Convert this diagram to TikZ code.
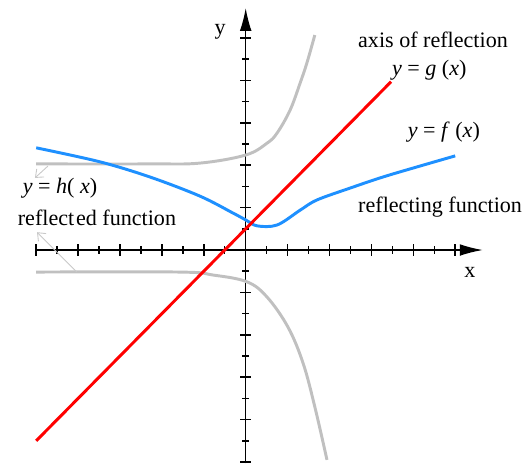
\documentclass[tikz,border=0pt]{standalone}
\usepackage{xcolor}
\usepackage{tikz}
\usepackage{fontspec}
\setmainfont{Liberation Serif}
\usetikzlibrary{arrows.meta,positioning,calc}
\definecolor{reflblue}{HTML}{1E90FF}
\definecolor{reflred}{HTML}{FF0000}
\definecolor{reflgray}{HTML}{C0C0C0}
\definecolor{reflpointer}{HTML}{C8C8C8}
\tikzstyle{axisline} = [line width=1pt, black, -{Latex[length=5.5mm,width=2.8mm]}]
\tikzstyle{curve} = [line width=2pt, line join=round]
\tikzstyle{funclabel} = [inner sep=1pt, font=\fontsize{15}{18}\selectfont]
\tikzstyle{pointer} = [-{Straight Barb[length=1.6mm,width=2.6mm]}, reflpointer, line width=0.6pt]

\begin{document}
\begin{tikzpicture}[x=1cm, y=1.012cm]
\useasboundingbox (-5.864,-5.024) rectangle (6.642,5.896);

% axes
\draw[axisline] (-5.0,0) -- (5.66,0);
\draw[axisline] (0,-5.03) -- (0,5.71);
\foreach \i in {-5,...,5} {
  \draw[line width=1pt] (\i,-0.13) -- (\i,0.13);
  \draw[line width=1pt] (-0.13,\i) -- (0.13,\i);
}
\foreach \i in {-4.5,-3.5,...,4.5} {
  \draw[line width=1pt] (\i,-0.085) -- (\i,0.085);
  \draw[line width=1pt] (-0.085,\i) -- (0.085,\i);
}
\node[funclabel] (ylab) at (-0.61,5.14) {y};
\node[funclabel] (xlab) at (5.35,-0.52) {x};

% reflected function h
\draw[curve, reflgray] plot[smooth, tension=0.6] coordinates {(-5.0,2.03) (-2.28,2.03) (-1.09,2.05) (0,2.24) (0.51,2.52) (0.75,2.76) (1.06,3.30) (1.30,3.94) (1.46,4.41) (1.65,5.07)};
\draw[curve, reflgray] plot[smooth, tension=0.6] coordinates {(-5.0,-0.52) (-1.57,-0.52) (-0.78,-0.59) (0.03,-0.75) (0.51,-1.11) (1.01,-1.82) (1.37,-2.67) (1.65,-3.70) (1.94,-4.95)};

% reflecting function f
\draw[curve, reflblue] plot[smooth, tension=0.55] coordinates {(-5.0,2.41) (-3.48,2.08) (-2.28,1.72) (-1.09,1.27) (-0.30,0.87) (0,0.71) (0.27,0.57) (0.75,0.59) (1.30,0.94) (1.70,1.18) (2.49,1.46) (3.27,1.72) (4.09,1.96) (5.0,2.22)};

% axis of reflection g
\coordinate (gstart) at (-5.0,-4.5);
\coordinate (gend) at (3.47,3.97);
\draw[curve, reflred] (gstart) -- (gend);

% labels
\node[funclabel] (axislab) at (4.47,4.95) {axis of reflection};
\node[funclabel] (glab) at (4.38,4.25) {\textit{y} = \textit{g} (\textit{x})};
\node[funclabel] (flab) at (4.73,2.78) {\textit{y} = \textit{f} (\textit{x})};
\node[funclabel] (reflecting) at (4.64,1.01) {reflecting function};
\node[funclabel] (hlab) at (-4.43,1.46) {\textit{y} = \textit{h}( \textit{x})};
\node[funclabel] (reflected) at (-3.55,0.75) {reflect\kern1.2pt ed function};

% pointers to the reflected labels
\coordinate (hup) at (-4.72,1.98);
\coordinate (hupend) at (-5.03,1.70);
\coordinate (hdown) at (-4.03,-0.52);
\coordinate (hdownend) at (-4.98,0.42);
\draw[pointer] (hup) -- (hupend);
\draw[pointer] (hdown) -- (hdownend);
\end{tikzpicture}
\end{document}
